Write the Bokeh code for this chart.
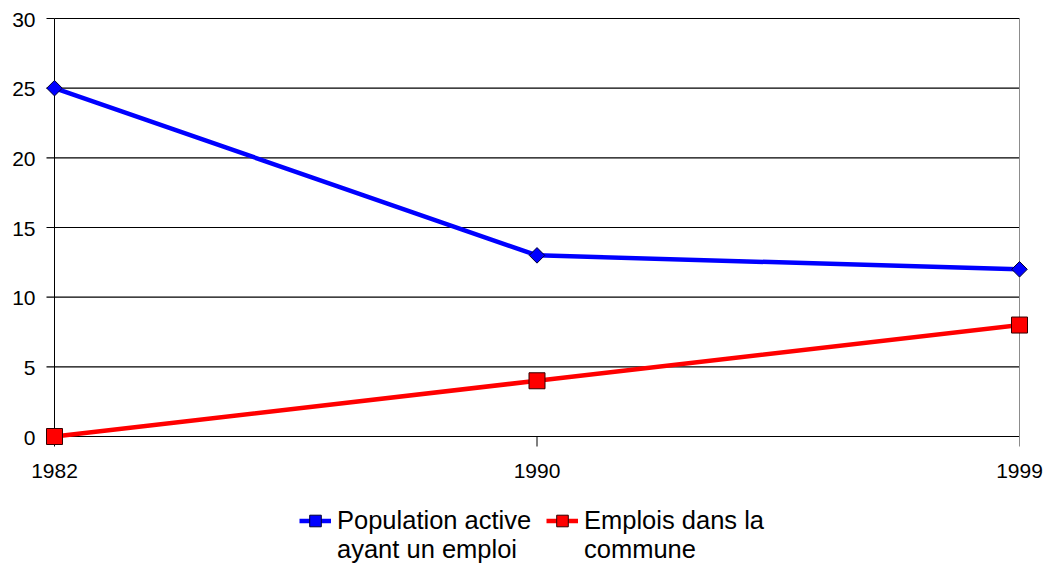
import math
from bokeh.plotting import figure
from bokeh.models import Range1d, Legend, LegendItem
from bokeh.core.properties import value
from bokeh.embed import file_html
from bokeh.resources import INLINE

years = ["1982", "1990", "1999"]
population_active = [25, 13, 12]
emplois_commune = [0, 4, 8]
series_labels = [["Population active", "ayant un emploi"], ["Emplois dans la", "commune"]]
y_ticks = [0, 5, 10, 15, 20, 25, 30]
y_tick_labels = [str(t) for t in y_ticks]

xs = list(range(len(years)))
x_max = len(years) - 1
y_max = y_ticks[-1]

W, H = 1043, 566
BOX_L, BOX_R, BOX_T, BOX_B = 54, 1019, 18, 436
ux = x_max / (BOX_R - BOX_L)
uy = y_max / (BOX_B - BOX_T)

p = figure(frame_width=W, frame_height=H, output_backend="svg", toolbar_location=None,
           x_range=Range1d(-BOX_L * ux, x_max + (W - BOX_R) * ux),
           y_range=Range1d(-(H - BOX_B) * uy, y_max + BOX_T * uy),
           min_border=0)
p.background_fill_color = "white"
p.border_fill_color = "white"
p.outline_line_color = None
p.grid.visible = False
p.xaxis.visible = False
p.yaxis.visible = False

FONT = "Liberation Sans"

# plot box, gridlines and tick marks
p.segment(x0=[0] * len(y_ticks), x1=[x_max] * len(y_ticks), y0=y_ticks, y1=y_ticks,
          line_color="black", line_width=1.1)
p.ray(x=[0] * len(y_ticks), y=y_ticks, length=8, length_units="screen", angle=math.pi,
      line_color="black", line_width=1.1)
p.segment(x0=[0], x1=[0], y0=[0], y1=[y_max], line_color="black", line_width=1)
p.segment(x0=[x_max], x1=[x_max], y0=[0], y1=[y_max], line_color="#8c8c8c", line_width=1)
p.ray(x=xs, y=[0] * len(xs), length=10, length_units="screen", angle=-math.pi / 2,
      line_color=["black", "black", "#8c8c8c"], line_width=1)

# tick labels
p.text(x=[0] * len(y_ticks), y=y_ticks, text=y_tick_labels, x_offset=-19, y_offset=1,
       text_align="right", text_baseline="middle", text_font=value(FONT),
       text_font_size="21px", text_color="black")
p.text(x=xs, y=[0] * len(xs), text=years, y_offset=34,
       text_align="center", text_baseline="middle", text_font=value(FONT),
       text_font_size="21px", text_color="black")

l1 = p.line(xs, population_active, line_color="#0000ff", line_width=4.5)
m1 = p.scatter(xs, population_active, marker="square", angle=math.pi / 4, size=11,
               fill_color="#0000ff", line_color="#000033", line_width=1)
l2 = p.line(xs, emplois_commune, line_color="#ff0000", line_width=4.5)
m2 = p.scatter(xs, emplois_commune, marker="square", size=16, fill_color="#ff0000",
               line_color="#330000", line_width=1)
blank = p.line(x=[], y=[], line_alpha=0)

legend = Legend(items=[LegendItem(label=series_labels[0][0], renderers=[l1, m1]),
                       LegendItem(label=series_labels[1][0], renderers=[l2, m2]),
                       LegendItem(label=series_labels[0][1], renderers=[blank]),
                       LegendItem(label=series_labels[1][1], renderers=[blank])],
                orientation="horizontal", ncols=2, location=(299, 2),
                label_text_font=FONT, label_text_font_size="25.5px", label_text_color="black",
                label_width=209, label_height=10,
                glyph_width=32, glyph_height=29, spacing=0, label_standoff=6,
                border_line_color=None, background_fill_alpha=0, padding=0, margin=0)
p.add_layout(legend, "center")

open("out.html", "w").write(file_html(p, INLINE))
